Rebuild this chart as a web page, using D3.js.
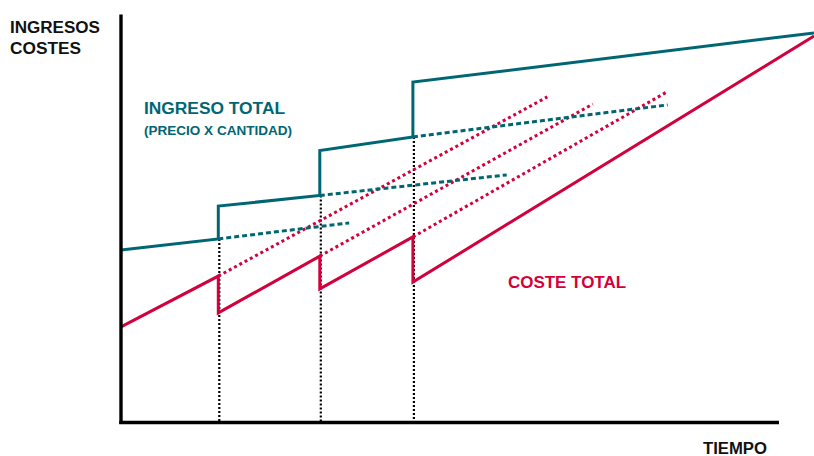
<!DOCTYPE html>
<html>
<head>
<meta charset="utf-8">
<script src="https://cdn.jsdelivr.net/npm/d3@7"></script>
<style>
  html, body { margin: 0; padding: 0; background: #fff; }
  svg { display: block; }
  text { font-family: "Liberation Sans", Arial, sans-serif; font-weight: bold; }
</style>
</head>
<body>
<svg id="chart" width="814" height="456"></svg>
<script>
// ---- data (arbitrary units: time 0..100, value 0..100) ----
const stepTimes = [13.9, 28.4, 41.7];
const endTime = 99;
const axisTimeMax = 94;
const axisValueMax = 102;

const ingresoTimes  = [0, 13.9, 13.9, 28.4, 28.4, 41.7, 41.7, 99];
const ingresoValues = [43.1, 45.9, 54.1, 56.75, 68, 71.4, 85.1, 97.4];

const costeTimes  = [0, 13.9, 13.9, 28.4, 28.4, 41.7, 41.7, 99];
const costeValues = [23.9, 36.6, 27.4, 41.6, 33.4, 46.4, 35.1, 96.6];

// projections (dotted) starting at each step
const ingresoProjStartValues = [45.9, 56.75, 71.4];
const ingresoProjEndTimes    = [32.6, 55.1, 78.1];
const ingresoProjEndValues   = [49.9, 61.9, 79.4];

const costeProjStartValues = [36.6, 41.6, 46.4];
const costeProjEndTimes    = [60.9, 67.4, 78.1];
const costeProjEndValues   = [81.4, 79.6, 82.75];

const labels = {
  yTitle1: "INGRESOS",
  yTitle2: "COSTES",
  xTitle: "TIEMPO",
  ingreso: "INGRESO TOTAL",
  ingresoSub: "(PRECIO X CANTIDAD)",
  coste: "COSTE TOTAL"
};

const TEAL = "#006673";
const RED = "#D2003C";

// ---- scales ----
const x = d3.scaleLinear().domain([0, 100]).range([121, 821]);
const y = d3.scaleLinear().domain([0, 100]).range([422.5, 22.5]);

const svg = d3.select("#chart");
const line = d3.line().x(d => x(d[0])).y(d => y(d[1]));

// black dotted verticals at the steps
svg.append("g").selectAll("line")
  .data(stepTimes.map((t, i) => [t, ingresoProjStartValues[i]]))
  .join("line")
  .attr("x1", d => x(d[0]) + 1).attr("x2", d => x(d[0]) + 1)
  .attr("y1", d => y(d[1])).attr("y2", y(0))
  .attr("stroke", "#000").attr("stroke-width", 2.2)
  .attr("stroke-dasharray", "2,2");

// dotted projections
const ingresoProj = stepTimes.map((t, i) => [[t, ingresoProjStartValues[i]], [ingresoProjEndTimes[i], ingresoProjEndValues[i]]]);
const costeProj = stepTimes.map((t, i) => [[t, costeProjStartValues[i]], [costeProjEndTimes[i], costeProjEndValues[i]]]);

svg.append("g").selectAll("path")
  .data(costeProj).join("path")
  .attr("d", line).attr("fill", "none")
  .attr("stroke", RED).attr("stroke-width", 3)
  .attr("stroke-dasharray", "3,3");

svg.append("g").selectAll("path")
  .data(ingresoProj).join("path")
  .attr("d", line).attr("fill", "none")
  .attr("stroke", TEAL).attr("stroke-width", 3)
  .attr("stroke-dasharray", "5,3");

// solid lines
svg.append("path")
  .datum(costeTimes.map((t, i) => [t, costeValues[i]]))
  .attr("d", line).attr("fill", "none")
  .attr("stroke", RED).attr("stroke-width", 3)
  .attr("stroke-linejoin", "miter");

svg.append("path")
  .datum(ingresoTimes.map((t, i) => [t, ingresoValues[i]]))
  .attr("d", line).attr("fill", "none")
  .attr("stroke", TEAL).attr("stroke-width", 3)
  .attr("stroke-linejoin", "miter");

// axes
svg.append("line")
  .attr("x1", x(0)).attr("x2", x(0))
  .attr("y1", y(axisValueMax)).attr("y2", y(0) + 1.5)
  .attr("stroke", "#000").attr("stroke-width", 3.4);
svg.append("line")
  .attr("x1", x(0) - 1.7).attr("x2", x(axisTimeMax))
  .attr("y1", y(0)).attr("y2", y(0))
  .attr("stroke", "#000").attr("stroke-width", 3.4);

// text
function addText(str, px, py, size, color, len) {
  svg.append("text")
    .attr("x", px).attr("y", py)
    .attr("font-size", size)
    .attr("fill", color)
    .attr("textLength", len)
    .attr("lengthAdjust", "spacingAndGlyphs")
    .text(str);
}
addText(labels.yTitle1, 10, 32.7, 16, "#111", 90);
addText(labels.yTitle2, 10, 54.3, 16, "#111", 71);
addText(labels.ingreso, 144, 114, 16, TEAL, 141);
addText(labels.ingresoSub, 144, 134.5, 12, TEAL, 148);
addText(labels.coste, 508, 288.3, 16, RED, 118);
addText(labels.xTitle, 703, 454, 16, "#111", 64);
</script>
</body>
</html>
